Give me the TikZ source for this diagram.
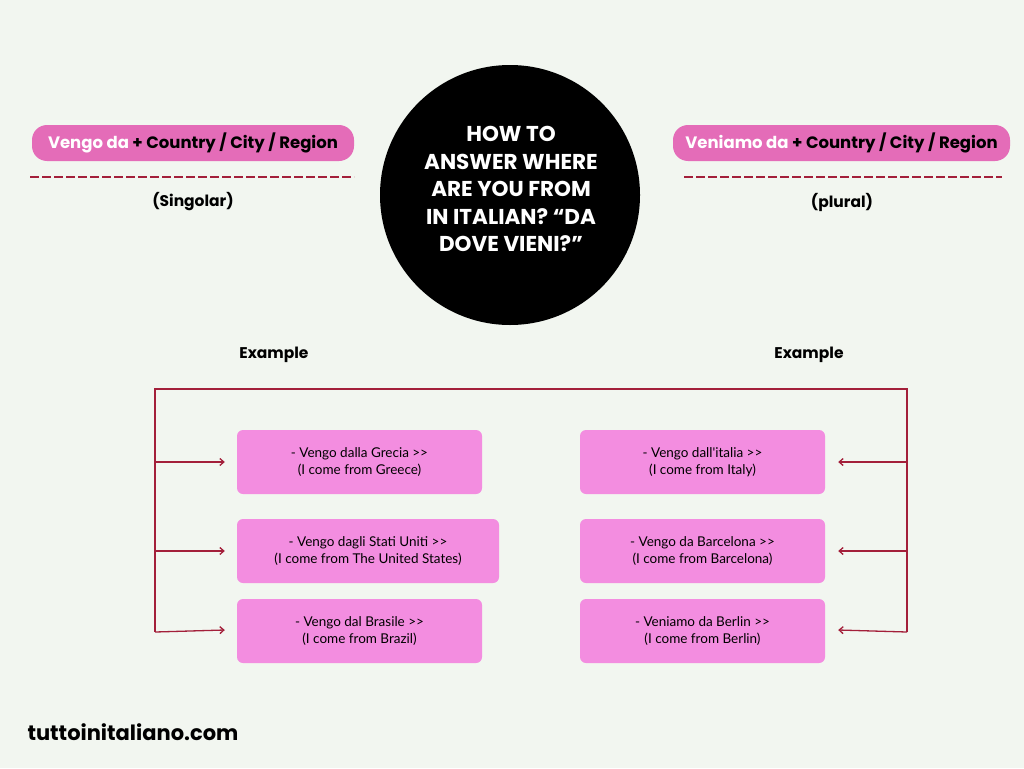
\documentclass[tikz,border=0pt]{standalone}
\usepackage{fontspec}
\setmainfont{Poppins}
\newfontfamily\bodyf{Lato}
\usetikzlibrary{arrows.meta}
\definecolor{bg}{HTML}{F2F6F0}
\definecolor{pill}{HTML}{E46CB8}
\definecolor{boxc}{HTML}{F38DE0}
\definecolor{lnc}{HTML}{A31F3A}
\tikzset{
 pillbox/.style={fill=pill,rounded corners=15pt,minimum height=36pt,inner sep=0pt,font=\fontsize{16.5}{18}\selectfont\bfseries},
 exbox/.style={fill=boxc,rounded corners=6pt,minimum height=64pt,inner sep=0pt,align=center,font=\bodyf\fontsize{13.5}{17}\selectfont},
 conn/.style={draw=lnc,line width=1.3pt},
 arr/.style={conn,-{Straight Barb[length=4pt,width=7pt]}},
 lbl/.style={font=\fontsize{15.5}{18}\selectfont\bfseries}
}
\begin{document}
\begin{tikzpicture}[x=1pt,y=-1pt]
\fill[bg] (0,0) rectangle (1024,768);
\useasboundingbox (0,0) rectangle (1024,768);
\node[pillbox,minimum width=322pt] (pl) at (193,143) {\textcolor{white}{Vengo da} + Country / City / Region};
\node[pillbox,minimum width=337pt] (pr) at (841.5,143) {\textcolor{white}{Veniamo da} + Country / City / Region};
\draw[lnc,line width=1.5pt,dash pattern=on 9pt off 3pt] (30,177) -- (354,177);
\draw[lnc,line width=1.5pt,dash pattern=on 9pt off 3pt] (684,177) -- (1002,177);
\node[lbl] (sg) at (193,202) {(Singolar)};
\node[lbl] (plu) at (842,202) {(plural)};
\node[circle,fill=black,minimum size=260pt,inner sep=0pt] (c) at (510,195) {};
\node[text=white,align=center,font=\fontsize{21.5}{27.5}\selectfont\bfseries] (ct) at (511,189) {HOW TO\\ANSWER WHERE\\ARE YOU FROM\\IN ITALIAN? “DA\\DOVE VIENI?”};
\node[lbl] (e1) at (274,355) {Example};
\node[lbl] (e2) at (809,355) {Example};
\node[exbox,minimum width=245pt] (l1) at (359.5,462) {- Vengo dalla Grecia >>\\(I come from Greece)};
\node[exbox,minimum width=262pt] (l2) at (368,551) {- Vengo dagli Stati Uniti >>\\(I come from The United States)};
\node[exbox,minimum width=245pt] (l3) at (359.5,631) {- Vengo dal Brasile >>\\(I come from Brazil)};
\node[exbox,minimum width=245pt] (r1) at (702.5,462) {- Vengo dall'italia >>\\(I come from Italy)};
\node[exbox,minimum width=245pt] (r2) at (702.5,551) {- Vengo da Barcelona >>\\(I come from Barcelona)};
\node[exbox,minimum width=245pt] (r3) at (702.5,631) {- Veniamo da Berlin >>\\(I come from Berlin)};
\coordinate (tl) at (155,389); \coordinate (tr) at (907,389);
\coordinate (bl) at (155,632); \coordinate (br) at (907,632);
\draw[conn] (bl) -- (tl) -- (tr) -- (br);
\draw[arr] (155,462) -- ([xshift=-12pt]l1.west);
\draw[arr] (155,551) -- ([xshift=-12pt]l2.west);
\draw[arr] (bl) -- ([xshift=-12pt,yshift=1pt]l3.west);
\draw[arr] (907,462) -- ([xshift=13pt]r1.east);
\draw[arr] (907,551) -- ([xshift=13pt]r2.east);
\draw[arr] (br) -- ([xshift=13pt,yshift=1pt]r3.east);
\node[anchor=west,font=\fontsize{21}{24}\selectfont\bfseries] (site) at (24,732) {tuttoinitaliano.com};
\end{tikzpicture}
\end{document}
